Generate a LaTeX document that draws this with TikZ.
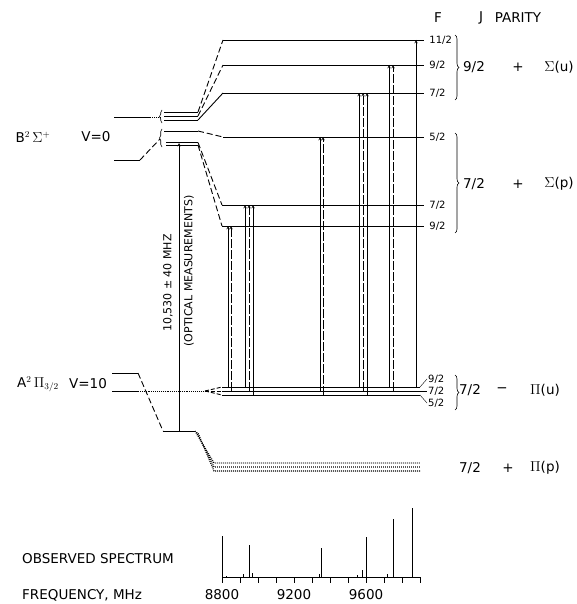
\documentclass[tikz,border=0pt]{standalone}
\usepackage{amsmath}
\usepackage{amssymb}
\usepackage{fontspec}
\setmainfont{DejaVu Sans}
\usetikzlibrary{calc,positioning,decorations.pathreplacing}

\begin{document}
\begin{tikzpicture}[x=1pt,y=-1pt,>=stealth,
  lvl/.style={line width=0.9pt},
  link/.style={line width=0.9pt,dash pattern=on 6pt off 3pt},
  trans/.style={->,line width=0.5pt},
  transd/.style={trans,dash pattern=on 9pt off 2pt},
  hatch/.style={line width=1.2pt,dash pattern=on 0.9pt off 1.1pt},
  brc/.style={decorate,decoration={brace,amplitude=4pt},line width=0.6pt},
  txt/.style={font=\fontsize{13.5}{15}\selectfont,inner sep=0pt},
  rot/.style={font=\fontsize{11}{12}\selectfont,inner sep=0pt,rotate=90},
  small/.style={font=\fontsize{10}{12}\selectfont,inner sep=0pt}]
\useasboundingbox (0,0) rectangle (577,604);

% B state, hyperfine levels
\coordinate (rend) at (424,0);
\coordinate (u11) at (223,40);
\coordinate (u9) at (223,65);
\coordinate (u7) at (223,93);
\coordinate (p5) at (223,137);
\coordinate (p7) at (222,205);
\coordinate (p9) at (222,226);
\foreach \l/\f in {u11/{11/2},u9/{9/2},u7/{7/2},p5/{5/2},p7/{7/2},p9/{9/2}}
  \draw[lvl] (\l) -- (\l -| rend) node[small,right=5pt] (f\l) {\f};

\draw[lvl] (114,117) -- (150,117);
\draw[lvl,densely dotted] (150,117) -- (160,117);
\draw[lvl] (114,160) -- (140,160);
\draw[link] (140,160) -- (160,139);
\draw[brc,decoration={amplitude=2.5pt}] (162,123) -- (162,110);
\draw[brc,decoration={amplitude=2.5pt}] (162,147) -- (162,129);
\foreach \y in {112,116,120}
  \draw[lvl] (164,\y) -- (198,\y);
\draw[link] (198,112) -- (u11);
\draw[link] (198,116) -- (u9);
\draw[lvl] (198,120) -- (u7);
\draw[lvl] (164,131) -- (198,131);
\draw[link] (198,131) -- (p5);
\draw[lvl] (166,142.5) -- (198,142.5);
\draw[lvl] (166,145) -- (198,145);
\draw[link] (198,142.5) -- (p7);
\draw[link] (198,145) -- (p9);

% A state
\coordinate (aend) at (420,0);
\coordinate (a9) at (222,387);
\coordinate (a7) at (222,391);
\coordinate (a5) at (222,395);
\foreach \l in {a9,a7,a5}
  \draw[lvl] (\l) -- (\l -| aend);
\draw[thin] (a9 -| aend) -- ++(7,-8) node[small,right=1pt] (fa9) {9/2};
\draw[thin] (a7 -| aend) -- ++(7,0) node[small,right=1pt] (fa7) {7/2};
\draw[thin] (a5 -| aend) -- ++(7,8) node[small,right=1pt] (fa5) {5/2};

\draw[lvl] (112,373) -- (138,373);
\draw[link] (138,373) -- (163,431);
\draw[lvl] (163,431) -- (195,431);
\draw[lvl] (112,391) -- (138,391);
\draw[lvl,densely dotted] (138,391) -- (205,391);
\foreach \l in {a9,a7,a5}
  \draw[lvl,dash pattern=on 4pt off 2pt] (205,391) -- (\l);

\coordinate (h0) at (195,431);
\coordinate (h1) at (214,463);
\coordinate (h2) at (420,463);
\foreach \d in {0,4,8}
  \draw[hatch] ($(h0)+(\d*0.4,\d*0.3)$) -- ($(h1)+(0,\d)$) -- ($(h2)+(0,\d)$);

% optical interval
\coordinate (ob) at (179,431);
\coordinate (ot) at (179,143);
\draw[trans] (ob) -- (ot);
\node[rot] (freq) at (168,283) {10,530 ± 40 MHZ};
\node[rot] (optic) at (189,271) {(OPTICAL MEASUREMENTS)};

% transitions
\foreach \x/\lo/\hi/\s in {228/a9/p9/trans,231/a7/p9/transd,245/a9/p7/trans,249/a7/p7/transd,
    253/a5/p7/trans,320/a7/p5/trans,323/a5/p5/transd,359/a9/u7/trans,363/a7/u7/transd,
    367/a5/u7/trans,389/a9/u9/trans,393/a7/u9/transd,416/a9/u11/trans}
  \draw[\s] (\x,0 |- \lo) -- (\x,0 |- \hi);

% labels
\node[txt] (bstate) at (33,137) {B$^2\,\Sigma^+$};
\node[txt] (bv) at (96,137) {V=0};
\node[txt] (astate) at (38,384) {A$^2\,\Pi_{3/2}$};
\node[txt] (av) at (88,384) {V=10};

\node[txt] (hF) at (438,18) {F};
\node[txt] (hJ) at (481,18) {J};
\node[txt] (hP) at (518,18) {PARITY};

\draw[brc] (455,35) -- (455,100);
\draw[brc] (455,133) -- (455,233);
\draw[brc] (455,375) -- (455,410);
\node[txt] (ju) at (474,67) {9/2};
\node[txt] (pu) at (518,67) {+};
\node[txt] (su) at (559,67) {$\Sigma$(u)};
\node[txt] (jp) at (474,184) {7/2};
\node[txt] (pp) at (518,184) {+};
\node[txt] (sp) at (559,184) {$\Sigma$(p)};
\node[txt] (jau) at (470,390) {7/2};
\node[txt] (pau) at (502,390) {−};
\node[txt] (sau) at (545,390) {$\Pi$(u)};
\node[txt] (jap) at (470,468) {7/2};
\node[txt] (pap) at (508,468) {+};
\node[txt] (sap) at (545,468) {$\Pi$(p)};

% spectrum
\coordinate (s0) at (222,577);
\coordinate (s1) at (421,577);
\draw[line width=0.8pt] (s0) -- (s1);
\foreach \f in {0,...,11}
  \draw[line width=0.8pt] ($(s0)+(\f*18,0)$) -- ++(0,6);
\foreach \f/\h in {5/41,25/1,122/3,150/32,172/4,540/3,555/29,755/2,778/7,800/40,920/3,950/58,1060/69}
  \draw[line width=1pt] ($(s0)+(\f*0.18,0)$) -- ++(0,-\h);
\node[txt] (t1) at (222,595) {8800};
\node[txt] (t2) at (294,595) {9200};
\node[txt] (t3) at (366,595) {9600};
\node[txt,anchor=west] (obs) at (22,559) {OBSERVED SPECTRUM};
\node[txt,anchor=west] (fq) at (22,595) {FREQUENCY, MHz};
\end{tikzpicture}
\end{document}
